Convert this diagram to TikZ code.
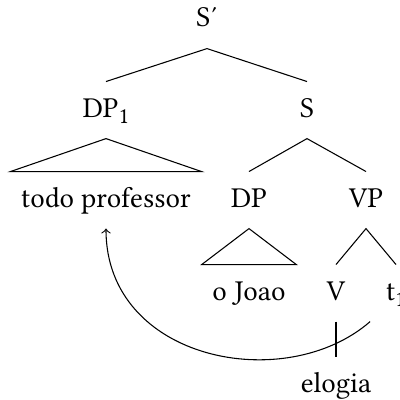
\documentclass[tikz,border=0pt]{standalone}
\usepackage{fontspec}
\setmainfont{Libertinus Serif}
\begin{document}
\begin{tikzpicture}[x=0.375pt,y=-0.375pt,
  lab/.style={anchor=base,inner xsep=3.8pt,inner ysep=0pt,text height=13.1pt,text depth=7.9pt,font=\fontsize{10.8}{13}\selectfont},
  edge/.style={line width=0.4pt}]
\useasboundingbox (0,0) rectangle (400,400);
\node[lab] (sp) at (207,27) {S′};
\node[lab] (dp1) at (106,117) {DP{\raisebox{-2.4pt}{\fontsize{8.6}{10}\selectfont 1}}};
\node[lab] (s) at (307,117) {S};
\node[lab] (todo) at (106,207) {todo professor};
\node[lab] (dp) at (249,207) {DP};
\node[lab] (vp) at (366,207) {VP};
\node[lab] (ojoao) at (249,300) {o Joao};
\node[lab] (v) at (336,300) {V};
\node[lab] (t1) at (396,300) {t{\raisebox{-2.4pt}{\fontsize{8.6}{10}\selectfont 1}}};
\node[lab] (elogia) at (336,392) {elogia};
\draw[edge] (dp1.north) -- (sp.south) -- (s.north);
\draw[edge] (dp1.south) -- (todo.north west) -- (todo.north east) -- cycle;
\draw[edge] (dp.north) -- (s.south) -- (vp.north);
\draw[edge] (dp.south) -- (ojoao.north west) -- (ojoao.north east) -- cycle;
\draw[edge] (v.north) -- (vp.south) -- (t1.north);
\draw[edge] (v.south) -- (elogia.north);
\draw[edge,->] ([xshift=-2pt]t1.south west) .. controls +(-85,74) and +(0,132) .. (todo.south);
\end{tikzpicture}
\end{document}
